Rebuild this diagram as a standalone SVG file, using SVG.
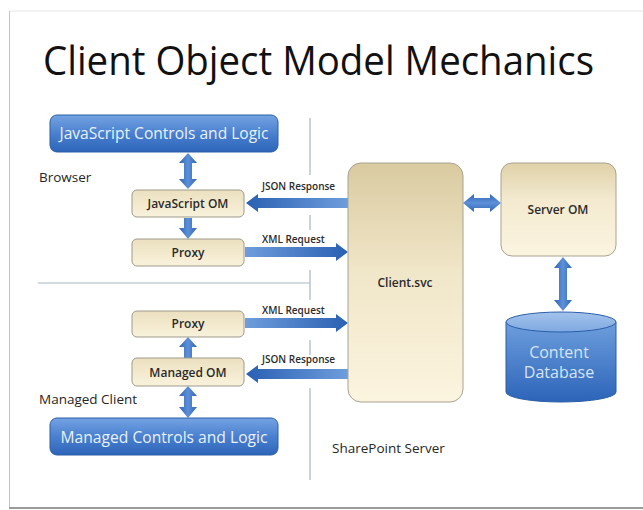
<svg xmlns="http://www.w3.org/2000/svg" width="643" height="510" viewBox="0 0 643 510">
<defs>
<linearGradient id="gBlue" x1="0" y1="0" x2="0" y2="1">
<stop offset="0" stop-color="#74a3e2"/><stop offset="0.5" stop-color="#4a80cf"/><stop offset="1" stop-color="#2d65b9"/>
</linearGradient>
<linearGradient id="gBeige" x1="0" y1="0" x2="0" y2="1">
<stop offset="0" stop-color="#ebe0bf"/><stop offset="1" stop-color="#f9f2dc"/>
</linearGradient>
<linearGradient id="gSvc" x1="0" y1="0" x2="0" y2="1">
<stop offset="0" stop-color="#d9caa0"/><stop offset="0.45" stop-color="#f0e6c8"/><stop offset="1" stop-color="#fbf4df"/>
</linearGradient>
<linearGradient id="gSrv" x1="0" y1="0" x2="0" y2="1">
<stop offset="0" stop-color="#dfd1a8"/><stop offset="0.4" stop-color="#f3ead0"/><stop offset="1" stop-color="#fbf4df"/>
</linearGradient>
<linearGradient id="gArrL" x1="1" y1="0" x2="0" y2="0">
<stop offset="0" stop-color="#6e9ddc"/><stop offset="1" stop-color="#2a60b3"/>
</linearGradient>
<linearGradient id="gArrR" x1="0" y1="0" x2="1" y2="0">
<stop offset="0" stop-color="#6e9ddc"/><stop offset="1" stop-color="#2a60b3"/>
</linearGradient>
<linearGradient id="gArrV" x1="0" y1="0" x2="1" y2="0">
<stop offset="0" stop-color="#2f65b6"/><stop offset="0.5" stop-color="#5d90d8"/><stop offset="1" stop-color="#2f65b6"/>
</linearGradient>
<linearGradient id="gArrH" x1="0" y1="0" x2="0" y2="1">
<stop offset="0" stop-color="#2f65b6"/><stop offset="0.5" stop-color="#5d90d8"/><stop offset="1" stop-color="#2f65b6"/>
</linearGradient>
<linearGradient id="gDb" x1="0" y1="0" x2="0" y2="1">
<stop offset="0" stop-color="#6d9edd"/><stop offset="1" stop-color="#2c64b8"/>
</linearGradient>
<linearGradient id="gDbTop" x1="0" y1="0" x2="0" y2="1">
<stop offset="0" stop-color="#a3c3ec"/><stop offset="1" stop-color="#7fa9e2"/>
</linearGradient>
</defs>
<style>
.blue{fill:url(#gBlue);stroke:#2b5ea9;stroke-width:1}
.beige{fill:url(#gBeige);stroke:#9d9a8c;stroke-width:1}
.div{stroke:#a9b5c4;stroke-width:1.2;fill:none}
.lbl{font-family:"Open Sans","Noto Sans",sans-serif;fill:#262626}
.btxt{font-family:"Open Sans","Noto Sans",sans-serif;fill:#e9f1fb;font-size:16px;text-anchor:middle}
.ntxt{font-family:"Open Sans","Noto Sans",sans-serif;fill:#2b2b2b;font-size:12px;font-weight:600;text-anchor:middle}
.atxt{font-family:"Open Sans","Noto Sans",sans-serif;fill:#2b2b2b;font-size:10px;font-weight:600}
</style>
<rect x="0" y="0" width="643" height="510" fill="#ffffff"/>
<line x1="10" y1="11" x2="643" y2="11" stroke="#e4e4e4" stroke-width="1"/>
<line x1="9.5" y1="11" x2="9.5" y2="508" stroke="#c4c4c4" stroke-width="1"/>
<line x1="9" y1="508" x2="643" y2="508" stroke="#9a9a9a" stroke-width="2"/>
<text x="43" y="75" font-family="Open Sans, Noto Sans, sans-serif" font-size="40" fill="#111" textLength="551" lengthAdjust="spacingAndGlyphs">Client Object Model Mechanics</text>
<g id="dividers">
<line class="div" x1="310" y1="118" x2="310" y2="175"/>
<line class="div" x1="310" y1="215" x2="310" y2="230"/>
<line class="div" x1="310" y1="270" x2="310" y2="300"/>
<line class="div" x1="310" y1="340" x2="310" y2="355"/>
<line class="div" x1="310" y1="388" x2="310" y2="480"/>
<line class="div" x1="38" y1="283" x2="310" y2="283"/>
</g>
<text class="lbl" x="39" y="182" font-size="13.5">Browser</text>
<text class="lbl" x="39" y="404" font-size="13.5">Managed Client</text>
<text class="lbl" x="332" y="453" font-size="13.5">SharePoint Server</text>
<g id="connectors">
<polygon fill="url(#gArrV)" points="188,153 197,163 192,163 192,179 197,179 188,189 179,179 184,179 184,163 179,163"/>
<polygon fill="url(#gArrV)" points="184,218 192,218 192,228 197,228 188,239 179,228 184,228"/>
<polygon fill="url(#gArrV)" points="188,337 197,347 192,347 192,358 184,358 184,347 179,347"/>
<polygon fill="url(#gArrV)" points="188,386 197,396 192,396 192,407 197,407 188,418 179,407 184,407 184,396 179,396"/>
<polygon fill="url(#gArrL)" points="246,203 258,194 258,198 348,198 348,208 258,208 258,212"/>
<polygon fill="url(#gArrR)" points="245,247 336,247 336,243 348,252 336,261 336,257 245,257"/>
<polygon fill="url(#gArrR)" points="245,318 336,318 336,314 348,323 336,332 336,328 245,328"/>
<polygon fill="url(#gArrL)" points="246,374 258,365 258,369 348,369 348,379 258,379 258,383"/>
<polygon fill="url(#gArrH)" points="463,203 474,194 474,198 490,198 490,194 501,203 490,212 490,208 474,208 474,212"/>
<polygon fill="url(#gArrV)" points="563,257 572,268 567,268 567,300 572,300 563,311 554,300 559,300 559,268 554,268"/>
<text class="atxt" x="262" y="190">JSON Response</text>
<text class="atxt" x="262" y="243">XML Request</text>
<text class="atxt" x="262" y="314">XML Request</text>
<text class="atxt" x="262" y="363">JSON Response</text>
</g>
<g id="js-controls">
<rect class="blue" x="50" y="115" width="228" height="37" rx="7"/>
<text class="btxt" x="164" y="139" textLength="209" lengthAdjust="spacingAndGlyphs">JavaScript Controls and Logic</text>
</g>
<g id="js-om">
<rect class="beige" x="132" y="190" width="112" height="27" rx="5"/>
<text class="ntxt" x="188" y="208">JavaScript OM</text>
</g>
<g id="proxy-browser">
<rect class="beige" x="132" y="239" width="112" height="27" rx="5"/>
<text class="ntxt" x="188" y="257">Proxy</text>
</g>
<g id="proxy-managed">
<rect class="beige" x="132" y="311" width="112" height="26" rx="5"/>
<text class="ntxt" x="188" y="328">Proxy</text>
</g>
<g id="managed-om">
<rect class="beige" x="132" y="358" width="112" height="28" rx="5"/>
<text class="ntxt" x="188" y="377">Managed OM</text>
</g>
<g id="managed-controls">
<rect class="blue" x="50" y="418" width="228" height="37" rx="7"/>
<text class="btxt" x="164" y="443" textLength="207" lengthAdjust="spacingAndGlyphs">Managed Controls and Logic</text>
</g>
<g id="client-svc">
<rect x="348" y="163" width="115" height="239" rx="13" fill="url(#gSvc)" stroke="#a8a290" stroke-width="1"/>
<text class="ntxt" x="405" y="287">Client.svc</text>
</g>
<g id="server-om">
<rect x="501" y="163" width="115" height="93" rx="11" fill="url(#gSrv)" stroke="#a8a290" stroke-width="1"/>
<text class="ntxt" x="558" y="214">Server OM</text>
</g>
<g id="content-db">
<path d="M506,322 L506,392 A55,10 0 0 0 616,392 L616,322 Z" fill="url(#gDb)" stroke="#2b5ea9" stroke-width="1"/>
<ellipse cx="561" cy="322" rx="55" ry="10" fill="url(#gDbTop)" stroke="#2b5ea9" stroke-width="1"/>
<text x="559" y="358" font-family="Open Sans, Noto Sans, sans-serif" font-size="16" fill="#d6e4f6" text-anchor="middle">Content</text>
<text x="559" y="378" font-family="Open Sans, Noto Sans, sans-serif" font-size="16" fill="#d6e4f6" text-anchor="middle">Database</text>
</g>
</svg>
